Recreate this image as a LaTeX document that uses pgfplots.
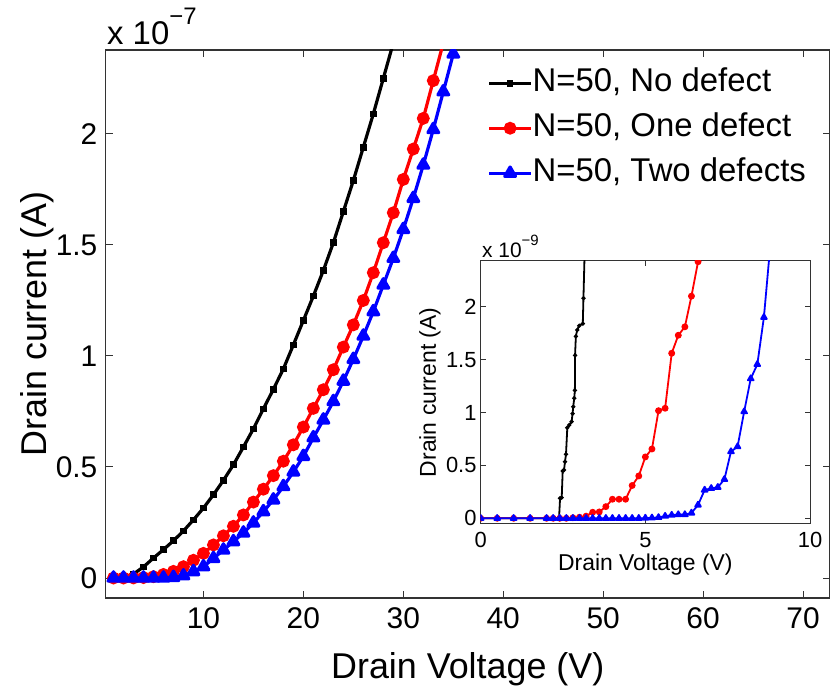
\documentclass[border=0pt]{standalone}
\usepackage{pgfplots}
\pgfplotsset{compat=1.18}
\usepackage{fontspec}
\setmainfont{Liberation Sans}
\definecolor{mred}{RGB}{255,0,0}
\definecolor{mblue}{RGB}{0,0,255}

\pgfplotstableread{
V I
1 0
2 0
3 0.018
4 0.05
5 0.09
6 0.128
7 0.168
8 0.212
9 0.262
10 0.315
11 0.375
12 0.44
13 0.51
14 0.59
15 0.672
16 0.762
17 0.85
18 0.942
19 1.05
20 1.16
21 1.27
22 1.385
23 1.51
24 1.65
25 1.79
26 1.94
27 2.09
28 2.25
29 2.41
}\blackmain

\pgfplotstableread{
V I
1 0
2 0
3 0.0003
4 0.002
5 0.006
6 0.016
7 0.03
8 0.051
9 0.08
10 0.111
11 0.149
12 0.19
13 0.233
14 0.284
15 0.342
16 0.40
17 0.461
18 0.526
19 0.60
20 0.68
21 0.764
22 0.848
23 0.938
24 1.04
25 1.14
26 1.25
27 1.375
28 1.51
29 1.645
30 1.795
31 1.932
32 2.07
33 2.24
34 2.41
}\redmain

\pgfplotstableread{
V I
1 0
2 0
3 0
4 0
5 0.0001
6 0.0003
7 0.003
8 0.01
9 0.029
10 0.051
11 0.088
12 0.126
13 0.164
14 0.203
15 0.248
16 0.299
17 0.352
18 0.412
19 0.478
20 0.548
21 0.632
22 0.712
23 0.795
24 0.887
25 0.985
26 1.09
27 1.20
28 1.32
29 1.44
30 1.57
31 1.71
32 1.86
33 2.02
34 2.19
35 2.36
}\bluemain

\pgfplotstableread{
V I
0 0
0.5 0
1 0
1.5 0
2 0
2.2 0
2.38 0.005
2.41 0.189
2.46 0.195
2.49 0.447
2.53 0.456
2.56 0.535
2.59 0.605
2.63 0.856
2.69 0.882
2.76 0.913
2.79 0.99
2.81 1.055
2.84 1.134
2.86 1.21
2.865 1.54
2.89 1.72
2.93 1.78
2.99 1.82
3.10 1.84
3.12 2.08
3.15 2.44
3.17 2.8
}\blackins

\pgfplotstableread{
V I
0 0
0.5 0
1 0
1.5 0
2 0
2.2 0
2.4 0
2.6 0
2.8 0.005
3.0 0.01
3.2 0.02
3.4 0.057
3.6 0.06
3.8 0.11
4.0 0.18
4.2 0.18
4.4 0.18
4.6 0.31
4.8 0.40
5.0 0.58
5.2 0.655
5.4 1.017
5.6 1.04
5.8 1.56
6.0 1.73
6.2 1.81
6.4 2.10
6.6 2.425
6.8 3.0
}\redins

\pgfplotstableread{
V I
0 0
0.5 0
1 0
1.5 0
2.0 0
2.2 0
2.4 0
2.6 0
2.8 0
3.0 0
3.2 0
3.4 0
3.6 0
3.8 0
4.0 0
4.2 0
4.4 0
4.6 0
4.8 0
5.0 0.002
5.2 0.004
5.4 0.008
5.6 0.02
5.8 0.03
6.0 0.035
6.2 0.035
6.4 0.05
6.6 0.126
6.8 0.267
7.0 0.283
7.2 0.293
7.4 0.368
7.6 0.63
7.8 0.677
8.0 1.008
8.2 1.32
8.4 1.455
8.6 1.90
8.8 2.6
}\blueins

\begin{document}
\begin{tikzpicture}
\useasboundingbox (0,0) rectangle (830bp,696bp);
\begin{axis}[
  at={(105.5bp,98bp)}, anchor=south west,
  scale only axis, width=724.5bp, height=548bp,
  xmin=0.2, xmax=72.7, ymin=-0.09, ymax=2.378,
  xtick={10,20,...,70}, ytick={0,0.5,1,1.5,2},
  tick align=inside, major tick length=7bp,
  axis line style={line width=1.2bp, draw=black!80},
  every tick/.style={line width=1bp, black!80},
  /pgf/number format/assume math mode=true,
  ticklabel style={font=\fontsize{30}{30}\selectfont, inner sep=0pt},
  xticklabel style={yshift=-9bp},
  yticklabel style={xshift=-8bp},
  xlabel={Drain Voltage (V)}, ylabel={Drain current (A)},
  label style={font=\fontsize{36}{36}\selectfont},
  xlabel style={at={(axis description cs:0.5,-0.146)}, anchor=base},
  ylabel style={at={(axis description cs:-0.081,0.5)}, anchor=base, rotate=0},
  clip marker paths=true,
  legend cell align=left,
  legend style={draw=none, fill=none, at={(axis description cs:0.527,0.968)}, anchor=north west,
    font=\fontsize{33}{33}\selectfont, row sep=14bp, inner sep=0pt,
    nodes={inner sep=0pt, text height=24bp, text depth=7bp},
    /tikz/every even column/.append style={column sep=6bp}},
  legend image code/.code={\draw[mark repeat=2,mark phase=2] plot coordinates {(0bp,0bp) (21bp,0bp) (42bp,0bp)};},
]
\addplot[black, line width=3.2bp, mark=square*, mark size=1.7bp] table[x=V,y=I]{\blackmain};
\addlegendentry{N=50, No defect}
\addplot[mred, line width=3.2bp, mark=*, mark size=4.8bp] table[x=V,y=I]{\redmain};
\addlegendentry{N=50, One defect}
\addplot[mblue, line width=3.2bp, mark=triangle*, mark size=6.2bp, mark options={line join=round}] table[x=V,y=I]{\bluemain};
\addlegendentry{N=50, Two defects}
\end{axis}
\node[anchor=base west, font=\fontsize{33}{33}\selectfont, inner sep=0pt] at (107bp,651bp) {x 10\raisebox{20bp}{\fontsize{24}{24}\selectfont −7}};

\begin{axis}[
  at={(480.7bp,172bp)}, anchor=south west,
  scale only axis, width=329.3bp, height=263.3bp,
  xmin=0, xmax=10, ymin=-0.054, ymax=2.435,
  xtick={0,5,10}, ytick={0,0.5,1,1.5,2},
  axis background/.style={fill=white},
  tick align=inside, major tick length=5bp,
  axis line style={line width=1bp, draw=black!80},
  every tick/.style={line width=0.8bp, black!80},
  /pgf/number format/assume math mode=true,
  ticklabel style={font=\fontsize{22}{22}\selectfont, inner sep=0pt},
  xticklabel style={yshift=-8bp},
  yticklabel style={xshift=-4bp},
  xlabel={Drain Voltage (V)}, ylabel={Drain current (A)},
  label style={font=\fontsize{23}{23}\selectfont},
  xlabel style={at={(axis description cs:0.5,-0.175)}, anchor=base},
  ylabel style={at={(axis description cs:-0.136,0.5)}, anchor=base},
  clip marker paths=true,
]
\addplot[black, line width=1.8bp, mark=*, mark size=1.1bp] table[x=V,y=I]{\blackins};
\addplot[mred, line width=1.8bp, mark=*, mark size=2.5bp] table[x=V,y=I]{\redins};
\addplot[mblue, line width=1.8bp, mark=triangle*, mark size=3.3bp, mark options={line join=round}] table[x=V,y=I]{\blueins};
\end{axis}
\node[anchor=base west, font=\fontsize{21}{21}\selectfont, inner sep=0pt] at (482bp,438bp) {x 10\raisebox{12bp}{\fontsize{15}{15}\selectfont −9}};
\end{tikzpicture}
\end{document}
